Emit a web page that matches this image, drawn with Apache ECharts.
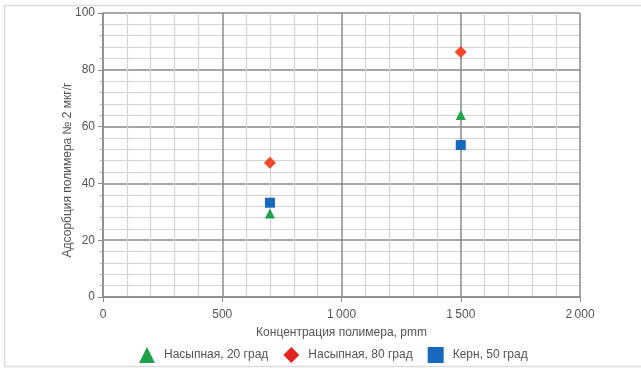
<!DOCTYPE html>
<html>
<head>
<meta charset="utf-8">
<script src="https://cdn.jsdelivr.net/npm/echarts@6/dist/echarts.min.js"></script>
<style>
  html, body { margin: 0; padding: 0; background: #fff; }
  #chart { width: 641px; height: 369px; }
</style>
</head>
<body>
<div id="chart"></div>
<script>
// Polymer adsorption vs. polymer concentration
const seriesNames = ['Насыпная, 20 град', 'Насыпная, 80 град', 'Керн, 50 град'];
const concentration = [700, 1500];
const bulk20 = [29.4, 64.1];
const bulk80 = [47.3, 86.3];
const core50 = [33.2, 53.5];
const xTitle = 'Концентрация полимера, pmm';
const yTitle = 'Адсорбция полимера № 2 мкг/г';

const colors = ['#1fa04a', '#f2472a', '#1769bd'];
const legendColors = ['#1fa04a', '#e52421', '#1769bd'];
const symbols = ['triangle', 'diamond', 'rect'];
const values = [bulk20, bulk80, core50];

const font = '"Liberation Sans", sans-serif';

const chart = echarts.init(document.getElementById('chart'), null, { renderer: 'canvas' });

const series = seriesNames.map((name, i) => ({
  name: name,
  type: 'scatter',
  symbol: symbols[i],
  symbolSize: i === 1 ? 12 : 10,
  itemStyle: { color: colors[i], opacity: 1 },
  data: concentration.map((c, j) => [c, values[i][j]])
}));

chart.setOption({
  backgroundColor: '#fff',
  animation: false,
  graphic: [{
    type: 'rect',
    shape: { x: 4.5, y: 5.5, width: 700, height: 361 },
    style: { fill: 'none', stroke: '#dcdcdc', lineWidth: 1.5 },
    silent: true
  }],
  grid: { left: 103, right: 61, top: 13, bottom: 72, containLabel: false },
  xAxis: {
    type: 'value', min: 0, max: 2000, interval: 500,
    name: xTitle, nameLocation: 'middle', nameGap: 30,
    nameTextStyle: { color: '#555', fontSize: 12, fontFamily: font },
    axisLine: { show: true, onZero: false, lineStyle: { color: '#8a8a8a', width: 1.5 } },
    axisTick: { show: true, length: 5, lineStyle: { color: '#8a8a8a' } },
    axisLabel: {
      color: '#555', fontSize: 12, fontFamily: font, margin: 12,
      formatter: v => v >= 1000 ? String(v).replace(/(\d)(\d{3})$/, '$1\u2009$2') : String(v)
    },
    splitLine: { show: true, lineStyle: { color: '#8a8a8a', width: 1.5 } },
    minorTick: { show: false, splitNumber: 5 },
    minorSplitLine: { show: true, lineStyle: { color: '#d4d4d4', width: 1.2 } }
  },
  yAxis: {
    type: 'value', min: 0, max: 100, interval: 20,
    name: yTitle, nameLocation: 'middle', nameGap: 29, nameMoveOverlap: false,
    nameTextStyle: { color: '#555', fontSize: 12, fontFamily: font, padding: [0, 30, 0, 0] },
    axisLine: { show: true, lineStyle: { color: '#8a8a8a', width: 1.5 } },
    axisTick: { show: true, length: 5, lineStyle: { color: '#8a8a8a' } },
    axisLabel: { color: '#555', fontSize: 12, fontFamily: font, margin: 8 },
    splitLine: { show: true, lineStyle: { color: '#8a8a8a', width: 1.5 } },
    minorTick: { show: true, splitNumber: 5, length: 3, lineStyle: { color: '#aaa' } },
    minorSplitLine: { show: true, lineStyle: { color: '#d4d4d4', width: 1.2 } }
  },
  legend: {
    bottom: 1, left: 134,
    itemWidth: 16, itemHeight: 16, itemGap: 15,
    textStyle: { color: '#555', fontSize: 12, fontFamily: font, padding: [0, 0, 0, 4] },
    data: seriesNames.map((n, i) => ({
      name: n, icon: symbols[i], itemStyle: { color: legendColors[i] }
    }))
  },
  series: series
});
</script>
</body>
</html>
